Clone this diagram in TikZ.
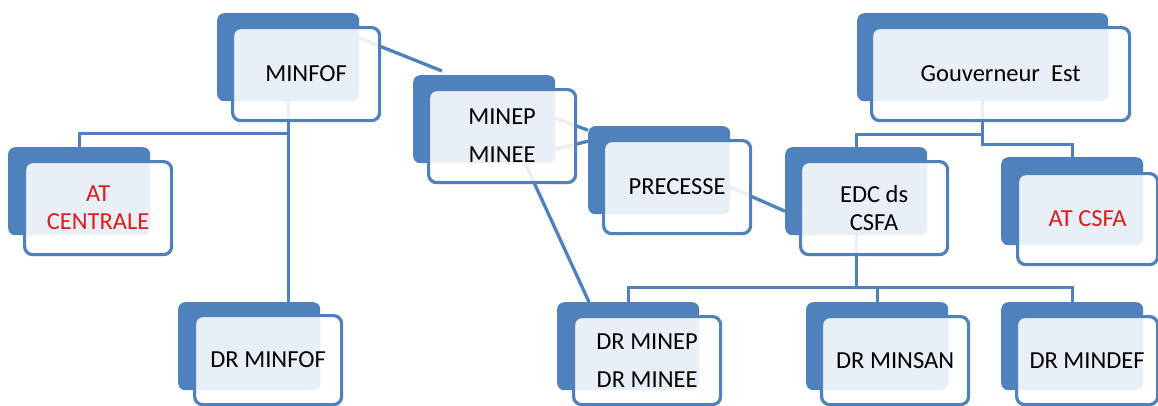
\documentclass[tikz,border=0pt]{standalone}
\usepackage{fontspec}
\setmainfont{Carlito}
\usetikzlibrary{calc}
\pgfdeclarelayer{bg}
\pgfsetlayers{bg,main}
\definecolor{obl}{HTML}{4F81BD}
\definecolor{ored}{HTML}{E01B1B}
\begin{document}
\begin{tikzpicture}[x=1pt,y=-1pt,
  backbox/.style={fill=obl, draw=none, rounded corners=7pt, anchor=north west, inner sep=0pt, minimum width=142pt, minimum height=88pt},
  frontbox/.style={fill=white, fill opacity=0.88, text opacity=1, draw=obl, draw opacity=1, line width=3.2pt, rounded corners=8pt, anchor=north west, inner sep=0pt, align=center, font=\fontsize{24.5}{28}\selectfont, text=black, minimum width=147pt, minimum height=93pt},
  redtext/.style={text=ored},
  conn/.style={draw=obl, line width=3.3pt}
  ]
\useasboundingbox (0,0) rectangle (1158,405);

% back boxes
\node[backbox] (minfofB) at (217,13) {};
\node[backbox] (atcB) at (8,147) {};
\node[backbox] (drminfofB) at (178,302) {};
\node[backbox] (minepB) at (413,75) {};
\node[backbox] (precesseB) at (588,126) {};
\node[backbox] (edcB) at (785,147) {};
\node[backbox, minimum width=251pt] (govB) at (857,13) {};
\node[backbox] (atcsfaB) at (1001,157) {};
\node[backbox] (drminepB) at (557,302) {};
\node[backbox] (drminsanB) at (806,302) {};
\node[backbox] (drmindefB) at (1001,302) {};

% front boxes
\node[frontbox] (minfof) at (231,26) {MINFOF};
\node[frontbox, redtext] (atc) at (23,160) {AT\\CENTRALE};
\node[frontbox, minimum height=89pt] (drminfof) at (193,314) {DR MINFOF};
\node[frontbox] (minep) at (427,88) {MINEP\\[10pt]MINEE};
\node[frontbox] (precesse) at (602,139) {PRECESSE};
\node[frontbox] (edc) at (799,160) {EDC ds\\CSFA};
\node[frontbox, minimum width=258pt] (gov) at (870,26) {Gouverneur~ Est};
\node[frontbox, redtext, minimum width=140pt, minimum height=91pt] (atcsfa) at (1016,172) {AT CSFA};
\node[frontbox, minimum height=88pt] (drminep) at (572,315) {DR MINEP\\[10pt]DR MINEE};
\node[frontbox, minimum height=88pt] (drminsan) at (820,315) {DR MINSAN};
\node[frontbox, minimum width=141pt, minimum height=88pt] (drmindef) at (1015,315) {DR MINDEF};

% connectors
\begin{pgfonlayer}{bg}
\draw[conn] (minfofB.south) -- ++(0,32) -| (atcB.north);
\draw[conn] (minfofB.south) -- (minfofB.south |- drminfofB.north);
\draw[conn] ($(minfofB.north east)+(0,25)$) -- ($(minepB.north west)+(29,-4)$);
\draw[conn] ($(minepB.east)+(0,-1)$) -- ($(precesseB.west)+(0,-40)$);
\draw[conn] ($(minepB.east)+(0,30)$) -- ($(precesseB.west)+(0,-29)$);
\draw[conn] ($(minepB.south)+(41,0)$) -- ($(drminepB.north west)+(32,0)$);
\draw[conn] ($(precesseB.east)+(0,17)$) -- ($(edcB.west)+(0,20)$);
\draw[conn] (govB.south) -- ++(0,33) -| (edcB.north);
\draw[conn] (govB.south) -- ++(0,43) -| (atcsfaB.north);
\draw[conn] (edcB.south) -- ++(0,52) coordinate (bus);
\draw[conn] (drminepB.north) |- (bus) -| (drmindefB.north);
\draw[conn] (bus -| drminsanB.north) -- (drminsanB.north);
\end{pgfonlayer}
\end{tikzpicture}
\end{document}
